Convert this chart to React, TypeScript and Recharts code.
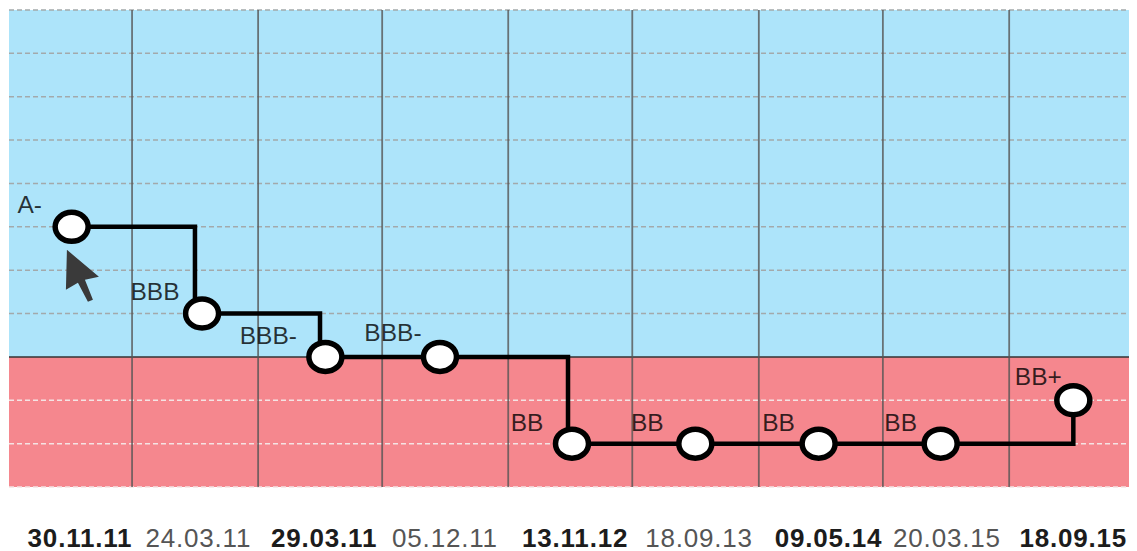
import React from "react";
import {
  ComposedChart,
  XAxis,
  YAxis,
  Line,
  LabelList,
  ReferenceArea,
  ReferenceLine,
  ReferenceDot,
} from "recharts";

// rating scale, bottom of the chart is 0, one step per notch
const ratingLabels = ["A-", "BBB", "BBB-", "BBB-", "BB", "BB", "BB", "BB", "BB+"];
const ratingLevels = [6, 4, 3, 3, 1, 1, 1, 1, 2];
const pointPositions = [0.503, 1.55, 2.54, 3.46, 4.52, 5.51, 6.5, 7.48, 8.545];

// where the step line turns
const stepPositions = [0.503, 1.493, 2.497, 4.488, 8.545];
const stepLevels = [6, 4, 3, 1, 2];

const dateLabels = [
  "30.11.11",
  "24.03.11",
  "29.03.11",
  "05.12.11",
  "13.11.12",
  "18.09.13",
  "09.05.14",
  "20.03.15",
  "18.09.15",
];
const datePositions = [0.57, 1.52, 2.53, 3.5, 4.545, 5.54, 6.58, 7.53, 8.545];

const columnLines = [0, 0.988, 2, 2.996, 4.008, 5.004, 6.02, 7.016, 8.03, 9];
const levelLines = [1, 2, 4, 5, 6, 7, 8, 9, 10, 11];
const junkLevel = 3;

const pointData = pointPositions.map((x, i) => ({ x, y: ratingLevels[i], label: ratingLabels[i] }));
const stepData = stepPositions.map((x, i) => ({ x, y: stepLevels[i] }));

// label placement relative to its point
const labelOffsets = [
  [-42, -14],
  [-47, -14],
  [-57, -13],
  [-47, -16],
  [-45, -13],
  [-48, -13],
  [-40, -13],
  [-40, -13],
  [-35, -15],
];

function PointDot({ cx, cy }: any) {
  return <ellipse cx={cx} cy={cy} rx={16.5} ry={14.5} fill="#fff" stroke="#000" strokeWidth={5.5} />;
}

function RatingLabel({ x, y, index, value }: any) {
  const [dx, dy] = labelOffsets[index];
  return (
    <text x={x + dx} y={y + dy} textAnchor="middle" fontSize={24.5} fill="#000" fillOpacity={0.78}>
      {value}
    </text>
  );
}

function DateTick({ x, y, index }: any) {
  return (
    <text
      x={x}
      y={y + 51.5}
      textAnchor="middle"
      fontSize={26}
      letterSpacing={0.8}
      fontWeight={index % 2 === 0 ? "bold" : "normal"}
      fill={index % 2 === 0 ? "#1c1c1c" : "#555"}
    >
      {dateLabels[index]}
    </text>
  );
}

function CursorArrow({ cx, cy }: any) {
  const p = [
    [0, 0],
    [32, 27],
    [18, 30],
    [26, 50],
    [21, 52],
    [11, 33],
    [-1, 40],
  ];
  return <polygon points={p.map(([a, b]) => `${cx + a},${cy + b}`).join(" ")} fill="#3a3a3a" />;
}

export default function App() {
  return (
    <div style={{ height: 551, fontFamily: "'Liberation Sans', Arial, sans-serif" }}>
      <ComposedChart
        width={1129}
        height={551}
        margin={{ top: 2, right: 7, left: 1, bottom: 0 }}
      >
        <XAxis
          type="number"
          dataKey="x"
          domain={[0, 9]}
          ticks={datePositions}
          interval={0}
          height={72}
          axisLine={false}
          tickLine={false}
          tick={<DateTick />}
        />
        <YAxis type="number" hide domain={[0, 11]} />
        <ReferenceArea x1={0} x2={9} y1={junkLevel} y2={11} fill="#ade4fa" fillOpacity={1} />
        <ReferenceArea x1={0} x2={9} y1={0} y2={junkLevel} fill="#f5878e" fillOpacity={1} />
        {levelLines.map((v) => (
          <ReferenceLine
            key={v}
            y={v}
            stroke={v < junkLevel ? "#f4e4e4" : "#a3a9ab"}
            strokeWidth={1.5}
            strokeDasharray="5 3"
          />
        ))}
        <ReferenceLine y={0} stroke="#f4e4e4" strokeWidth={1.5} strokeDasharray="5 3" />
        <ReferenceLine y={junkLevel} stroke="#333" strokeWidth={1.5} />
        {columnLines.slice(1).map((v) => (
          <ReferenceLine key={v} x={v} stroke="#555" strokeOpacity={0.8} strokeWidth={1.8} />
        ))}
        <Line
          data={stepData}
          dataKey="y"
          type="stepAfter"
          stroke="#000"
          strokeWidth={4.5}
          dot={false}
          isAnimationActive={false}
        />
        <Line
          data={pointData}
          dataKey="y"
          stroke="none"
          dot={<PointDot />}
          activeDot={false}
          isAnimationActive={false}
        >
          <LabelList dataKey="label" content={<RatingLabel />} />
        </Line>
        <ReferenceDot x={0.465} y={5.47} r={0} shape={<CursorArrow />} />
      </ComposedChart>
    </div>
  );
}
